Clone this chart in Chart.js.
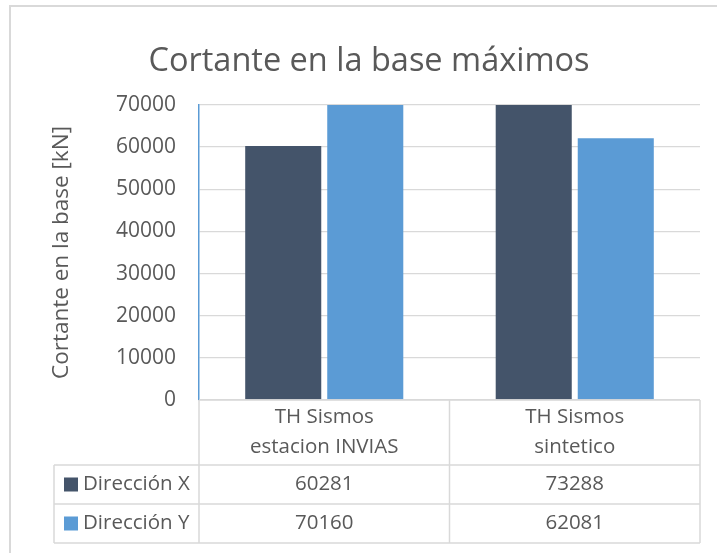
<!DOCTYPE html>
<html>
<head>
<meta charset="utf-8">
<script src="https://cdn.jsdelivr.net/npm/chart.js@4.4.1/dist/chart.umd.min.js"></script>
<style>
  html, body { margin: 0; padding: 0; background: #ffffff; }
  #wrap { width: 717px; height: 553px; }
</style>
</head>
<body>
<div id="wrap"><canvas id="chart" width="717" height="553"></canvas></div>
<script>
// Data
const chartTitle = 'Cortante en la base máximos';
const axisTitle = 'Cortante en la base [kN]';
const categories = [['TH Sismos', 'estacion INVIAS'], ['TH Sismos', 'sintetico']];
const seriesNames = ['Dirección X', 'Dirección Y'];
const valuesX = [60281, 73288];
const valuesY = [70160, 62081];
const yTickMin = 0;
const yTickMax = 70000;
const yTickStep = 10000;

const seriesColors = ['#44546A', '#5B9BD5'];
const textColor = '#595959';
const lineColor = '#D9D9D9';
const FONT = '"Open Sans", "DejaVu Sans", sans-serif';

// Data table under the plot: header row with categories, one row per series
const dataTable = {
  id: 'dataTable',
  beforeDraw(chart) {
    const ctx = chart.ctx;
    ctx.save();
    ctx.fillStyle = '#ffffff';
    ctx.fillRect(0, 0, chart.width, chart.height);
    // frame of the chart object
    ctx.strokeStyle = lineColor;
    ctx.lineWidth = 2;
    ctx.beginPath();
    ctx.moveTo(10, chart.height);
    ctx.lineTo(10, 6);
    ctx.lineTo(chart.width, 6);
    ctx.stroke();
    ctx.restore();
  },
  afterDraw(chart) {
    const ctx = chart.ctx;
    const area = chart.chartArea;
    const xs = chart.scales.x;
    const values = [valuesX, valuesY];

    const left = area.left, right = area.right, top = area.bottom;
    const legendLeft = 54;
    const headerBottom = top + 65;
    const rowH = 39;
    const centers = categories.map((_, i) => xs.getPixelForValue(i));
    const mid = (centers[0] + centers[1]) / 2;
    const bottom = headerBottom + rowH * seriesNames.length;

    ctx.save();
    ctx.strokeStyle = lineColor;
    ctx.lineWidth = 1.5;
    ctx.beginPath();
    ctx.moveTo(left, top); ctx.lineTo(right, top);
    for (let r = 0; r <= seriesNames.length; r++) {
      const y = headerBottom + r * rowH;
      ctx.moveTo(legendLeft, y); ctx.lineTo(right, y);
    }
    ctx.moveTo(legendLeft, headerBottom); ctx.lineTo(legendLeft, bottom);
    ctx.moveTo(left, top); ctx.lineTo(left, bottom);
    ctx.moveTo(mid, top); ctx.lineTo(mid, bottom);
    ctx.moveTo(right, top); ctx.lineTo(right, bottom);
    ctx.stroke();

    ctx.fillStyle = textColor;
    ctx.font = '20.5px ' + FONT;
    ctx.textAlign = 'center';
    ctx.textBaseline = 'middle';
    // category header
    categories.forEach((lines, i) => {
      const lh = 30;
      const y0 = (top + headerBottom) / 2 - (lines.length - 1) * lh / 2;
      lines.forEach((t, k) => ctx.fillText(t, centers[i], y0 + k * lh));
    });
    // series rows
    seriesNames.forEach((name, r) => {
      const yc = headerBottom + r * rowH + rowH / 2;
      values[r].forEach((v, i) => {
        ctx.textAlign = 'center';
        ctx.fillStyle = textColor;
        ctx.fillText(String(v), centers[i], yc);
      });
      ctx.fillStyle = seriesColors[r];
      ctx.fillRect(legendLeft + 10, yc - 7, 14, 14);
      ctx.fillStyle = textColor;
      ctx.textAlign = 'left';
      ctx.fillText(name, legendLeft + 29, yc);
    });

    // chart title
    ctx.font = '32.5px ' + FONT;
    ctx.textAlign = 'center';
    ctx.fillStyle = textColor;
    ctx.fillText(chartTitle, 369, 62);
    ctx.restore();
  }
};

new Chart(document.getElementById('chart'), {
  type: 'bar',
  data: {
    labels: categories,
    datasets: [
      { label: seriesNames[0], data: valuesX, backgroundColor: seriesColors[0], clip: 0,
        categoryPercentage: 0.655, barPercentage: 0.927 },
      { label: seriesNames[1], data: valuesY, backgroundColor: seriesColors[1], clip: 0,
        categoryPercentage: 0.655, barPercentage: 0.927 }
    ]
  },
  options: {
    responsive: false,
    animation: false,
    devicePixelRatio: 1,
    layout: { padding: { left: 0, right: 17, top: 105, bottom: 153 } },
    plugins: {
      legend: { display: false },
      title: { display: false },
      tooltip: { enabled: false }
    },
    scales: {
      x: { display: false },
      y: {
        min: yTickMin,
        max: yTickMax,
        ticks: {
          stepSize: yTickStep, padding: 23, color: textColor,
          font: { family: FONT, size: 21 },
          callback: (v) => String(v)
        },
        grid: { color: lineColor, lineWidth: 1.3, drawTicks: false },
        border: { color: seriesColors[1], width: 1.5 },
        title: {
          display: true, text: axisTitle, color: textColor,
          font: { family: FONT, size: 22.5 },
          padding: { top: 48, bottom: 0 }
        },
        afterFit(scale) { scale.width = 199; }
      }
    }
  },
  plugins: [dataTable]
});
</script>
</body>
</html>
